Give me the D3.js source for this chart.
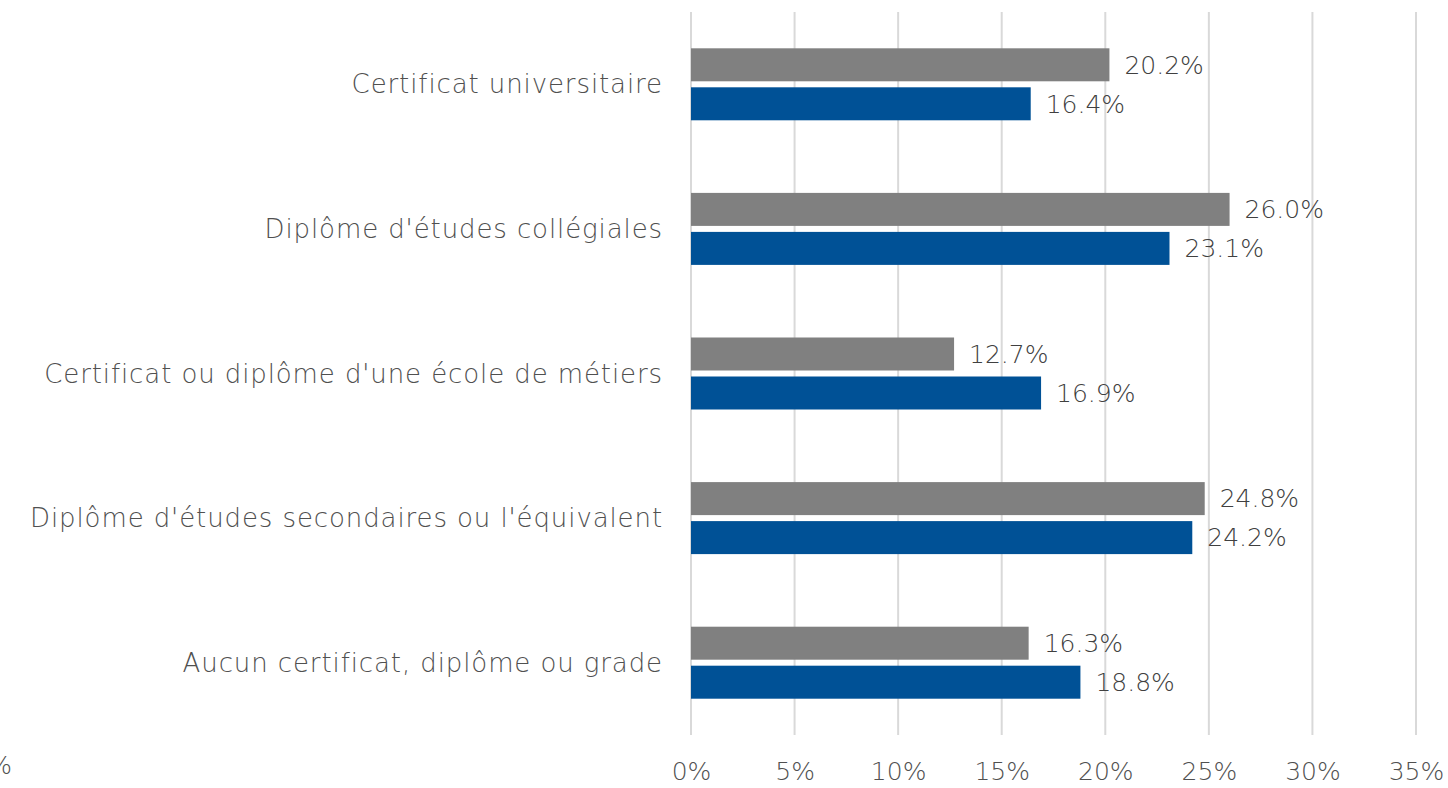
<!DOCTYPE html>
<html>
<head>
<meta charset="utf-8">
<script src="https://cdn.jsdelivr.net/npm/d3@7"></script>
<style>
  body { margin: 0; background: #fff; }
  svg text { font-family: "Century Gothic", "DejaVu Sans", sans-serif; font-weight: 200; }
</style>
</head>
<body>
<div id="chart"></div>
<script>
var categories = [
    "Certificat universitaire",
    "Diplôme d'études collégiales",
    "Certificat ou diplôme d'une école de métiers",
    "Diplôme d'études secondaires ou l'équivalent",
    "Aucun certificat, diplôme ou grade"
];
var seriesGray = [20.2, 26.0, 12.7, 24.8, 16.3];
var seriesBlue = [16.4, 23.1, 16.9, 24.2, 18.8];
var tickValues = [0, 5, 10, 15, 20, 25, 30, 35];

var svgWidth = 1448, svgHeight = 788;
var margin = { top: 12, right: 32, bottom: 53, left: 691 };
var width = svgWidth - margin.left - margin.right;
var height = svgHeight - margin.top - margin.bottom;

var svg = d3.select("#chart").append("svg")
    .attr("width", svgWidth)
    .attr("height", svgHeight)
    .append("g")
    .attr("transform", "translate(" + margin.left + "," + margin.top + ")");

var x = d3.scaleLinear()
    .domain([0, 35])
    .range([0, width]);

var y = d3.scaleBand()
    .domain(categories)
    .range([0, height]);

// grid lines
svg.append("g")
    .selectAll("line")
    .data(tickValues)
    .enter().append("line")
    .attr("x1", function(d) { return x(d); })
    .attr("x2", function(d) { return x(d); })
    .attr("y1", 0)
    .attr("y2", height)
    .attr("stroke", "#d9d9d9")
    .attr("stroke-width", 2);

// x axis labels
var xAxis = svg.append("g")
    .attr("transform", "translate(0," + height + ")")
    .call(d3.axisBottom(x).tickValues(tickValues).tickSize(0).tickPadding(27)
        .tickFormat(function(d) { return d + "%"; }));
xAxis.select(".domain").remove();
xAxis.selectAll("text")
    .attr("font-size", "25px")
    .attr("fill", "#505050");

// clipped label at the far left
svg.append("text")
    .attr("x", -margin.left + 12)
    .attr("y", height + 39)
    .attr("text-anchor", "end")
    .attr("font-size", "25px")
    .attr("fill", "#505050")
    .text("0%");

// category labels
svg.append("g")
    .selectAll("text")
    .data(categories)
    .enter().append("text")
    .attr("x", -28)
    .attr("y", function(d) { return y(d) + y.bandwidth() / 2; })
    .attr("dy", "0.35em")
    .attr("text-anchor", "end")
    .attr("font-size", "26px")
    .attr("letter-spacing", "0.9px")
    .attr("fill", "#505050")
    .text(function(d) { return d; });

var barH = 33, gap = 6;

var groups = svg.append("g")
    .selectAll("g")
    .data(categories)
    .enter().append("g")
    .attr("transform", function(d) { return "translate(0," + (y(d) + y.bandwidth() / 2) + ")"; });

groups.append("rect")
    .attr("x", 0)
    .attr("y", -barH - gap / 2)
    .attr("width", function(d, i) { return x(seriesGray[i]); })
    .attr("height", barH)
    .attr("fill", "#808080");

groups.append("rect")
    .attr("x", 0)
    .attr("y", gap / 2)
    .attr("width", function(d, i) { return x(seriesBlue[i]); })
    .attr("height", barH)
    .attr("fill", "#005196");

groups.append("text")
    .attr("x", function(d, i) { return x(seriesGray[i]) + 15; })
    .attr("y", -barH / 2 - gap / 2)
    .attr("dy", "0.35em")
    .attr("font-size", "25px")
    .attr("fill", "#404040")
    .text(function(d, i) { return seriesGray[i].toFixed(1) + "%"; });

groups.append("text")
    .attr("x", function(d, i) { return x(seriesBlue[i]) + 15; })
    .attr("y", barH / 2 + gap / 2)
    .attr("dy", "0.35em")
    .attr("font-size", "25px")
    .attr("fill", "#404040")
    .text(function(d, i) { return seriesBlue[i].toFixed(1) + "%"; });
</script>
</body>
</html>
